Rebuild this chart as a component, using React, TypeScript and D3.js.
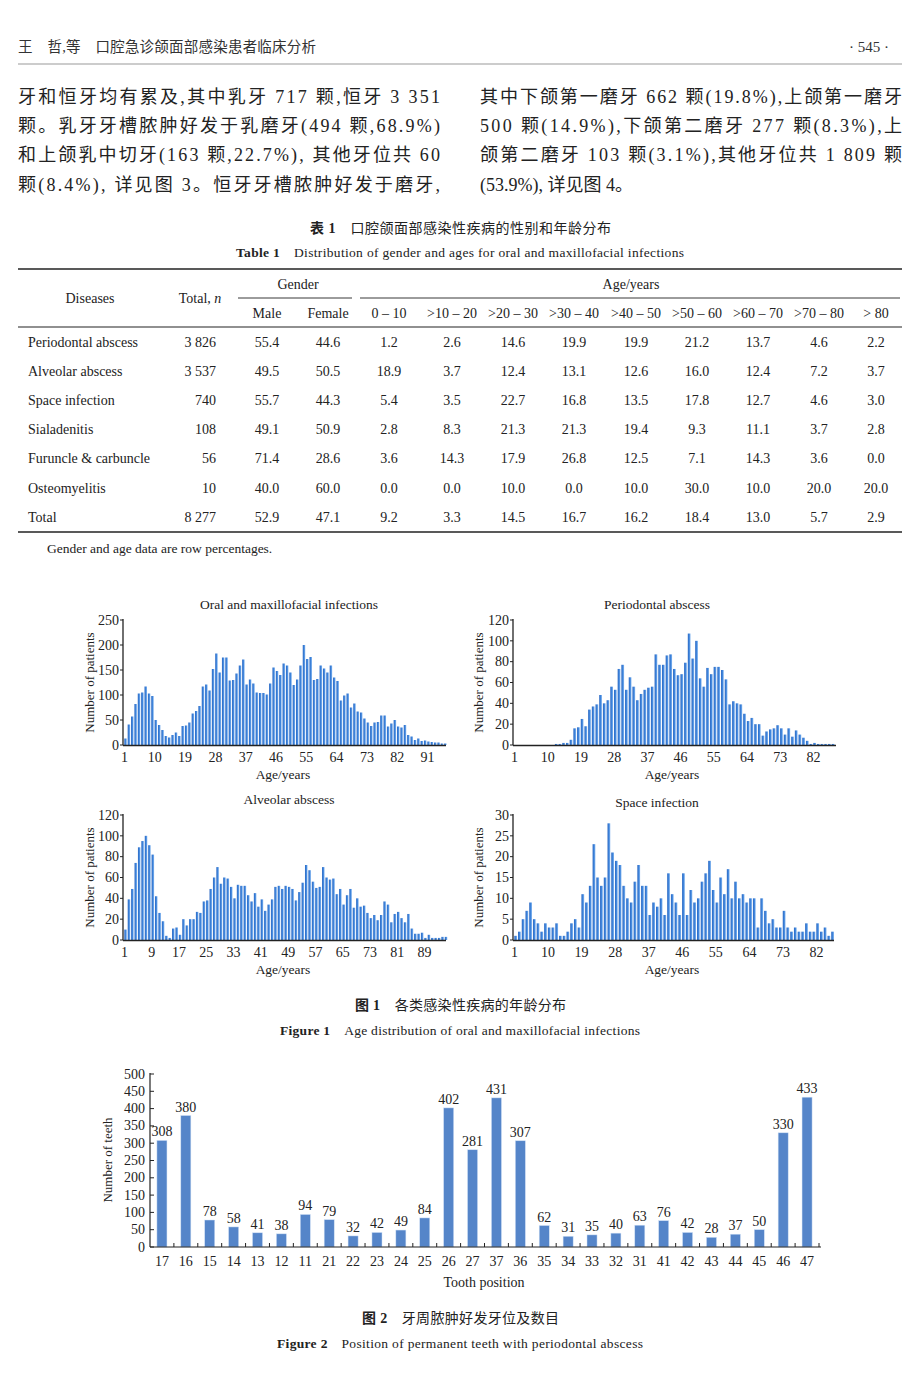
import React from 'react';
import * as d3 from 'd3';

const SERIF = "'Liberation Serif', 'Times New Roman', 'Noto Sans CJK SC', serif";

// ---------- text ----------
const headerLeft = '王　哲,等　口腔急诊颌面部感染患者临床分析';
const headerRight = '· 545 ·';
const leftLines = [
  '牙和恒牙均有累及,其中乳牙 717 颗,恒牙 3 351',
  '颗。乳牙牙槽脓肿好发于乳磨牙(494 颗,68.9%)',
  '和上颌乳中切牙(163 颗,22.7%), 其他牙位共 60',
  '颗(8.4%), 详见图 3。恒牙牙槽脓肿好发于磨牙,',
];
const rightLines = [
  '其中下颌第一磨牙 662 颗(19.8%),上颌第一磨牙',
  '500 颗(14.9%),下颌第二磨牙 277 颗(8.3%),上',
  '颌第二磨牙 103 颗(3.1%),其他牙位共 1 809 颗',
  '(53.9%), 详见图 4。',
];

// ---------- table ----------
const diseases = ['Periodontal abscess', 'Alveolar abscess', 'Space infection', 'Sialadenitis', 'Furuncle & carbuncle', 'Osteomyelitis', 'Total'];
const totals = ['3 826', '3 537', '740', '108', '56', '10', '8 277'];
const male = ['55.4', '49.5', '55.7', '49.1', '71.4', '40.0', '52.9'];
const female = ['44.6', '50.5', '44.3', '50.9', '28.6', '60.0', '47.1'];
const ageGroups = ['0 – 10', '>10 – 20', '>20 – 30', '>30 – 40', '>40 – 50', '>50 – 60', '>60 – 70', '>70 – 80', '> 80'];
const ageRows = [
  ['1.2', '2.6', '14.6', '19.9', '19.9', '21.2', '13.7', '4.6', '2.2'],
  ['18.9', '3.7', '12.4', '13.1', '12.6', '16.0', '12.4', '7.2', '3.7'],
  ['5.4', '3.5', '22.7', '16.8', '13.5', '17.8', '12.7', '4.6', '3.0'],
  ['2.8', '8.3', '21.3', '21.3', '19.4', '9.3', '11.1', '3.7', '2.8'],
  ['3.6', '14.3', '17.9', '26.8', '12.5', '7.1', '14.3', '3.6', '0.0'],
  ['0.0', '0.0', '10.0', '0.0', '10.0', '30.0', '10.0', '20.0', '20.0'],
  ['9.2', '3.3', '14.5', '16.7', '16.2', '18.4', '13.0', '5.7', '2.9'],
];

// ---------- figure 1 histograms (patients by age, age 1..N) ----------
const allInfections = [
  13, 41, 57, 82, 103, 105, 117, 103, 98, 50,
  40, 30, 18, 15, 20, 25, 18, 38, 39, 45,
  63, 68, 78, 117, 121, 109, 152, 183, 145, 175,
  175, 129, 130, 143, 159, 171, 121, 131, 123, 105,
  104, 104, 101, 123, 155, 148, 140, 163, 159, 145,
  120, 131, 159, 200, 172, 176, 130, 132, 159, 153,
  145, 159, 135, 128, 89, 99, 103, 75, 83, 67,
  65, 53, 45, 38, 45, 46, 59, 59, 37, 43,
  50, 37, 35, 40, 20, 17, 10, 13, 8, 9,
  7, 6, 5, 5, 3, 3,
];
const periodontal = [
  0, 0, 0, 0, 0, 0, 0, 0, 0, 0,
  0, 1, 1, 2, 2, 5, 16, 17, 25, 18,
  34, 37, 39, 48, 40, 43, 56, 53, 73, 77,
  53, 65, 56, 43, 49, 53, 55, 56, 87, 77,
  77, 86, 87, 73, 67, 68, 79, 107, 83, 100,
  64, 56, 74, 68, 75, 75, 72, 63, 39, 42,
  40, 39, 30, 23, 26, 20, 20, 9, 13, 15,
  16, 19, 16, 10, 16, 8, 14, 10, 7, 4,
  1, 2, 1, 1, 1, 1, 1,
];
const alveolar = [
  10, 39, 49, 74, 89, 95, 100, 91, 82, 42,
  26, 18, 4, 2, 11, 12, 5, 20, 14, 20,
  20, 27, 26, 37, 38, 49, 60, 70, 54, 60,
  59, 51, 40, 53, 52, 52, 43, 37, 45, 32,
  39, 28, 34, 39, 51, 52, 49, 52, 51, 49,
  38, 46, 55, 72, 67, 56, 50, 51, 70, 60,
  58, 59, 44, 49, 34, 43, 49, 31, 40, 32,
  33, 26, 21, 24, 19, 24, 37, 34, 17, 25,
  27, 21, 17, 25, 11, 6, 6, 7, 2, 5,
  2, 2, 2, 3, 3,
];
const spaceInfection = [
  1, 2, 5, 7, 9, 5, 4, 2, 4, 3,
  3, 4, 1, 1, 2, 4, 5, 3, 11, 9,
  13, 23, 15, 13, 15, 28, 21, 19, 18, 13,
  10, 9, 14, 18, 13, 13, 6, 9, 8, 10,
  6, 16, 11, 9, 6, 16, 6, 12, 9, 10,
  14, 16, 19, 12, 9, 15, 11, 17, 10, 14,
  10, 11, 9, 10, 10, 3, 10, 7, 4, 5,
  3, 3, 7, 3, 2, 3, 2, 2, 4, 2,
  2, 4, 2, 3, 1, 2,
];
const ageTicks1 = [1, 10, 19, 28, 37, 46, 55, 64, 73, 82, 91];
const ageTicks2 = [1, 10, 19, 28, 37, 46, 55, 64, 73, 82];
const ageTicks3 = [1, 9, 17, 25, 33, 41, 49, 57, 65, 73, 81, 89];
const ageTicks4 = [1, 10, 19, 28, 37, 46, 55, 64, 73, 82];
const yTicks250 = [0, 50, 100, 150, 200, 250];
const yTicks120 = [0, 20, 40, 60, 80, 100, 120];
const yTicks30 = [0, 5, 10, 15, 20, 25, 30];

// ---------- figure 2 ----------
const teeth = ['17', '16', '15', '14', '13', '12', '11', '21', '22', '23', '24', '25', '26', '27', '37', '36', '35', '34', '33', '32', '31', '41', '42', '43', '44', '45', '46', '47'];
const teethCounts = [308, 380, 78, 58, 41, 38, 94, 79, 32, 42, 49, 84, 402, 281, 431, 307, 62, 31, 35, 40, 63, 76, 42, 28, 37, 50, 330, 433];
const teethTicks = [0, 50, 100, 150, 200, 250, 300, 350, 400, 450, 500];

type HistProps = {
  title: string; data: number[]; ageTicks: number[]; yTicks: number[];
  x0: number; x1: number; yTop: number; yBottom: number; axisEnd: number;
  titleX: number; titleY: number; labelX: number; xLabelX: number;
};

function Histogram(p: HistProps) {
  const lastTick = p.ageTicks[p.ageTicks.length - 1];
  const x = d3.scaleLinear().domain([1, lastTick]).range([p.x0, p.x1]);
  const y = d3.scaleLinear().domain([0, p.yTicks[p.yTicks.length - 1]]).range([p.yBottom, p.yTop]);
  const step = x(2) - x(1);
  const bw = step * 0.74;
  const axisX = p.x0 - 1;
  return (
    <g fontFamily={SERIF} fill="#222">
      <text x={p.titleX} y={p.titleY} textAnchor="middle" fontSize={13.5}>{p.title}</text>
      {p.data.map((v, i) =>
        v > 0 ? (
          <rect key={i} x={x(i + 1) + 0.3} y={y(v)} width={bw} height={y(0) - y(v)} fill="url(#histGrad)" />
        ) : null
      )}
      <line x1={axisX} x2={axisX} y1={p.yTop - 1} y2={p.yBottom} stroke="#222" strokeWidth={1.3} />
      <line x1={axisX} x2={p.axisEnd} y1={p.yBottom + 0.5} y2={p.yBottom + 0.5} stroke="#222" strokeWidth={1.4} />
      {p.yTicks.map((t) => (
        <g key={t}>
          <line x1={axisX - 3} x2={axisX} y1={y(t)} y2={y(t)} stroke="#222" strokeWidth={1} />
          <text x={axisX - 4} y={y(t) + 4.8} textAnchor="end" fontSize={14}>{t}</text>
        </g>
      ))}
      {p.ageTicks.map((t) => (
        <text key={t} x={x(t) + 0.5} y={p.yBottom + 17} textAnchor="middle" fontSize={14}>{t}</text>
      ))}
      <text x={p.xLabelX} y={p.yBottom + 34} textAnchor="middle" fontSize={13.5}>Age/years</text>
      <text transform={`translate(${p.labelX},${(p.yTop + p.yBottom) / 2}) rotate(-90)`} textAnchor="middle" fontSize={13}>
        Number of patients
      </text>
    </g>
  );
}

function ToothChart() {
  const x = d3.scaleBand<string>().domain(teeth).range([150, 819]).paddingInner(0.58).paddingOuter(0.29);
  const y = d3.scaleLinear().domain([0, 500]).range([1247, 1074]);
  const step = x.step();
  const start = 150;
  return (
    <g fontFamily={SERIF} fill="#222">
      {teeth.map((t, i) => (
        <g key={t}>
          <rect x={x(t)!} y={y(teethCounts[i])} width={x.bandwidth()} height={y(0) - y(teethCounts[i])} fill="#5585c9" stroke="#cfe0f5" strokeWidth={0.5} />
          <text x={x(t)! + x.bandwidth() / 2} y={y(teethCounts[i]) - 4} textAnchor="middle" fontSize={14}>{teethCounts[i]}</text>
          <text x={x(t)! + x.bandwidth() / 2} y={1266} textAnchor="middle" fontSize={14}>{t}</text>
          <line x1={start + (i + 1) * step} x2={start + (i + 1) * step} y1={1247} y2={1243} stroke="#222" strokeWidth={1} />
        </g>
      ))}
      <line x1={150} x2={150} y1={1073} y2={1247} stroke="#222" strokeWidth={1.2} />
      <line x1={150} x2={821} y1={1247} y2={1247} stroke="#222" strokeWidth={1.2} />
      {teethTicks.map((t) => (
        <g key={t}>
          <line x1={150} x2={154} y1={y(t)} y2={y(t)} stroke="#222" strokeWidth={1} />
          <text x={145} y={y(t) + 4.5} textAnchor="end" fontSize={14}>{t}</text>
        </g>
      ))}
      <text x={484} y={1287} textAnchor="middle" fontSize={14}>Tooth position</text>
      <text transform={`translate(112,1160) rotate(-90)`} textAnchor="middle" fontSize={13}>Number of teeth</text>
    </g>
  );
}

export default function App() {
  const ageCols = [389, 452, 513, 574, 636, 697, 758, 819, 876];
  const rowY = (i: number) => 346.5 + i * 29.2;
  return (
    <svg width={920} height={1392} style={{ position: 'absolute', left: 0, top: 0, background: '#fff' }} fontFamily={SERIF}>
      <defs>
        <linearGradient id="histGrad" x1="0" x2="1" y1="0" y2="0">
          <stop offset="0%" stopColor="#2c68c2" />
          <stop offset="55%" stopColor="#3f86dd" />
          <stop offset="100%" stopColor="#8cbaf0" />
        </linearGradient>
      </defs>
      <rect x={0} y={0} width={920} height={1392} fill="#fff" />

      {/* header */}
      <text x={18} y={52} fontSize={14.5} fill="#333" textLength={298} lengthAdjust="spacing">{headerLeft}</text>
      <text x={889} y={52} fontSize={15} textAnchor="end" fill="#333">{headerRight}</text>
      <line x1={18} x2={902} y1={64} y2={64} stroke="#999" strokeWidth={1} />

      {/* body text */}
      {leftLines.map((l, i) => (
        <text key={'l' + i} x={18} y={103 + i * 29.2} fontSize={18} fill="#222" textLength={422} lengthAdjust="spacing">{l}</text>
      ))}
      {rightLines.map((l, i) => (
        i < rightLines.length - 1 ? (
          <text key={'r' + i} x={480} y={103 + i * 29.2} fontSize={18} fill="#222" textLength={422} lengthAdjust="spacing">{l}</text>
        ) : (
          <text key={'r' + i} x={480} y={103 + i * 29.2} fontSize={18} fill="#222">{l}</text>
        )
      ))}

      {/* table captions */}
      <text x={310} y={233} fontSize={14} fill="#222" textLength={301} lengthAdjust="spacing">
        <tspan fontWeight="bold">表 1</tspan><tspan>　口腔颌面部感染性疾病的性别和年龄分布</tspan>
      </text>
      <text x={236} y={257} fontSize={13.5} fill="#222" textLength={448} lengthAdjust="spacing">
        <tspan fontWeight="bold">Table 1</tspan><tspan>{'\u2003Distribution of gender and ages for oral and maxillofacial infections'}</tspan>
      </text>

      {/* table */}
      <g fontSize={14} fill="#222">
        <line x1={18} x2={902} y1={269} y2={269} stroke="#222" strokeWidth={1.6} />
        <line x1={238} x2={352} y1={298} y2={298} stroke="#222" strokeWidth={0.9} />
        <line x1={360} x2={900} y1={298} y2={298} stroke="#222" strokeWidth={0.9} />
        <line x1={18} x2={902} y1={327} y2={327} stroke="#222" strokeWidth={1.2} />
        <line x1={18} x2={902} y1={532} y2={532} stroke="#222" strokeWidth={1.6} />
        <text x={90} y={302.5} textAnchor="middle">Diseases</text>
        <text x={200} y={302.5} textAnchor="middle">Total, <tspan fontStyle="italic">n</tspan></text>
        <text x={298} y={288.5} textAnchor="middle">Gender</text>
        <text x={631} y={288.5} textAnchor="middle">Age/years</text>
        <text x={267} y={317.5} textAnchor="middle">Male</text>
        <text x={328} y={317.5} textAnchor="middle">Female</text>
        {ageGroups.map((g, j) => (
          <text key={g} x={ageCols[j]} y={317.5} textAnchor="middle">{g}</text>
        ))}
        {diseases.map((d, i) => (
          <g key={d}>
            <text x={28} y={rowY(i)}>{d}</text>
            <text x={216} y={rowY(i)} textAnchor="end">{totals[i]}</text>
            <text x={267} y={rowY(i)} textAnchor="middle">{male[i]}</text>
            <text x={328} y={rowY(i)} textAnchor="middle">{female[i]}</text>
            {ageRows[i].map((v, j) => (
              <text key={j} x={ageCols[j]} y={rowY(i)} textAnchor="middle">{v}</text>
            ))}
          </g>
        ))}
        <text x={47} y={553} fontSize={13.5}>Gender and age data are row percentages.</text>
      </g>

      {/* figure 1 */}
      <Histogram title="Oral and maxillofacial infections" data={allInfections} ageTicks={ageTicks1} yTicks={yTicks250}
        x0={124} x1={427} yTop={620} yBottom={745} axisEnd={446} titleX={289} titleY={609} labelX={94} xLabelX={283} />
      <Histogram title="Periodontal abscess" data={periodontal} ageTicks={ageTicks2} yTicks={yTicks120}
        x0={514} x1={813} yTop={620} yBottom={745} axisEnd={836} titleX={657} titleY={609} labelX={483} xLabelX={672} />
      <Histogram title="Alveolar abscess" data={alveolar} ageTicks={ageTicks3} yTicks={yTicks120}
        x0={124} x1={424} yTop={815} yBottom={940} axisEnd={446} titleX={289} titleY={804} labelX={94} xLabelX={283} />
      <Histogram title="Space infection" data={spaceInfection} ageTicks={ageTicks4} yTicks={yTicks30}
        x0={514} x1={816} yTop={815} yBottom={940} axisEnd={834} titleX={657} titleY={807} labelX={483} xLabelX={672} />

      <text x={355} y={1010} fontSize={14} fill="#222" textLength={211} lengthAdjust="spacing">
        <tspan fontWeight="bold">图 1</tspan><tspan>　各类感染性疾病的年龄分布</tspan>
      </text>
      <text x={280} y={1035} fontSize={13.5} fill="#222" textLength={360} lengthAdjust="spacing">
        <tspan fontWeight="bold">Figure 1</tspan><tspan>{'\u2003Age distribution of oral and maxillofacial infections'}</tspan>
      </text>

      {/* figure 2 */}
      <ToothChart />
      <text x={362} y={1323} fontSize={14} fill="#222" textLength={197} lengthAdjust="spacing">
        <tspan fontWeight="bold">图 2</tspan><tspan>　牙周脓肿好发牙位及数目</tspan>
      </text>
      <text x={277} y={1348} fontSize={13.5} fill="#222" textLength={366} lengthAdjust="spacing">
        <tspan fontWeight="bold">Figure 2</tspan><tspan>{'\u2003Position of permanent teeth with periodontal abscess'}</tspan>
      </text>
    </svg>
  );
}
